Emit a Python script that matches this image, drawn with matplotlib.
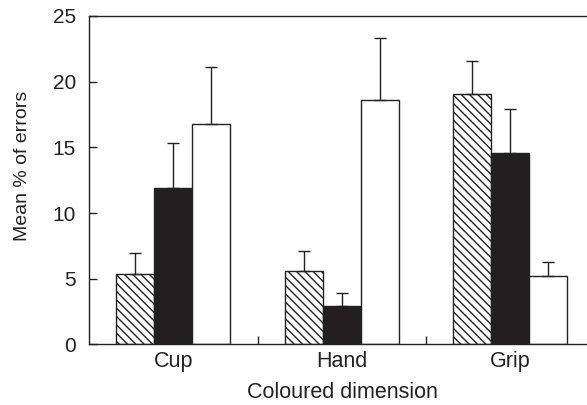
import numpy as np
import matplotlib
matplotlib.use("Agg")
import matplotlib.pyplot as plt

plt.rcParams["font.family"] = ["Liberation Sans", "DejaVu Sans"]
plt.rcParams["hatch.linewidth"] = 1.0

# 数据
groups = ["Cup", "Hand", "Grip"]
hatched_vals = [5.35, 5.6, 19.1]
hatched_err = [1.6, 1.5, 2.5]
black_vals = [11.9, 2.9, 14.6]
black_err = [3.4, 1.05, 3.3]
white_vals = [16.8, 18.6, 5.2]
white_err = [4.35, 4.75, 1.06]

fig = plt.figure(figsize=(5.87, 4.05), dpi=100)
ax = fig.add_axes([0.1516, 0.1494, 0.8484, 0.8111])

x = np.arange(len(groups))
w = 0.226
edge = "#222222"
ekw = dict(ecolor=edge, elinewidth=1.0, capthick=1.0)

series = [
    (hatched_vals, hatched_err, dict(color="white", hatch="\\\\\\\\")),
    (black_vals, black_err, dict(color="#231f20")),
    (white_vals, white_err, dict(color="white")),
]
for i, (vals, errs, style) in enumerate(series):
    ax.bar(x + (i - 1) * w, vals, w, edgecolor=edge, linewidth=1.0,
           yerr=[np.zeros(len(errs)), errs], capsize=4.3, error_kw=ekw,
           zorder=2, **style)

ax.set_xlim(-0.5, 2.455)
ax.set_ylim(0, 25)
ax.set_yticks([0, 5, 10, 15, 20, 25])
ax.set_xticks([0.5, 1.5])
ax.set_xticks(x, minor=True)
ax.set_xticklabels([])
ax.set_xticklabels(groups, minor=True)
ax.tick_params(axis="x", which="major", direction="in", length=6, width=1, color=edge)
ax.tick_params(axis="x", which="minor", length=0, labelsize=15.5, pad=5, labelcolor="#222222")
ax.tick_params(axis="y", direction="in", length=6, width=1, labelsize=15, color=edge,
               pad=9.5, labelcolor="#222222")

ax.spines["right"].set_visible(False)
for s in ["left", "top", "bottom"]:
    ax.spines[s].set_linewidth(1.0)
    ax.spines[s].set_color(edge)

fig.text(23 / 587, 1 - 166 / 405, "Mean % of errors", rotation=90, fontsize=14,
         ha="center", va="center", color="#222222")
fig.text(342 / 587, 1 - 393 / 405, "Coloured dimension", fontsize=15.5,
         ha="center", va="center", color="#222222")

fig.savefig("out.png", dpi=100)
